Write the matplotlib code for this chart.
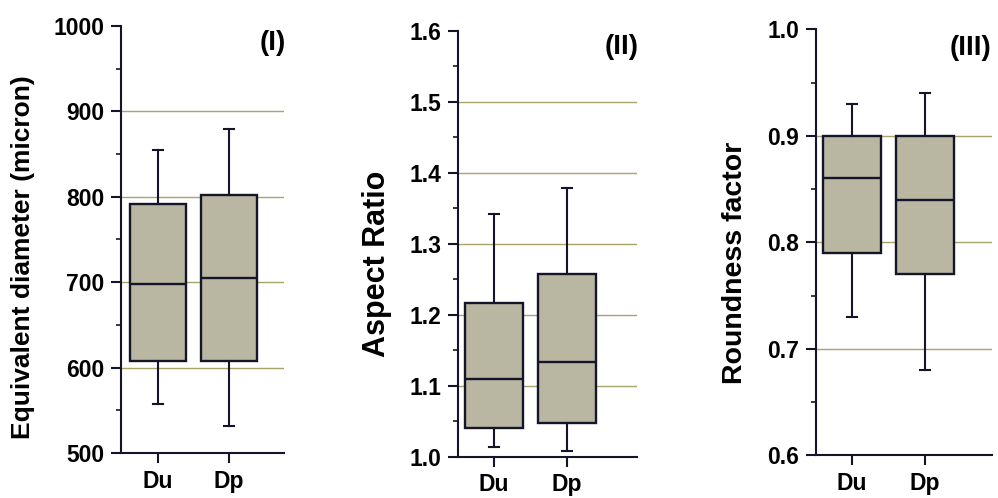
import matplotlib
matplotlib.use("Agg")
import matplotlib.pyplot as plt
from matplotlib.ticker import MultipleLocator, FormatStrFormatter

plt.rcParams.update({
    "font.family": ["Liberation Sans", "DejaVu Sans"],
    "font.weight": "bold",
    "font.size": 16.5,
})

groups = ["Du", "Dp"]

# whisker low, Q1, median, Q3, whisker high
diam_du = [557, 608, 698, 792, 855]
diam_dp = [532, 608, 705, 802, 879]
aspect_du = [1.013, 1.040, 1.109, 1.216, 1.342]
aspect_dp = [1.008, 1.047, 1.133, 1.258, 1.378]
round_du = [0.73, 0.79, 0.86, 0.90, 0.93]
round_dp = [0.68, 0.77, 0.84, 0.90, 0.94]

BOX = "#b9b6a2"
GRID = "#a9a36c"
INK = "#15152a"

panels = [
    dict(data=[diam_du, diam_dp], ylabel="Equivalent diameter (micron)", labsize=19, tag="(I)",
         ylim=(500, 1000), major=100, fmt="%d", pos=[0.1212, 0.0904, 0.1633, 0.8574],
         xlim=(0.48, 2.77), grid=[600, 700, 800, 900], tagxy=(0.93, 0.96), labxy=(-0.528, 0.459)),
    dict(data=[aspect_du, aspect_dp], ylabel="Aspect Ratio", labsize=22, tag="(II)",
         ylim=(1.0, 1.6), major=0.1, fmt="%.1f", pos=[0.4589, 0.0829, 0.1794, 0.8554],
         xlim=(0.51, 2.96), grid=[1.1, 1.2, 1.3, 1.4, 1.5], tagxy=(0.916, 0.962), labxy=(-0.369, 0.452)),
    dict(data=[round_du, round_dp], ylabel="Roundness factor", labsize=20.5, tag="(III)",
         ylim=(0.6, 1.0), major=0.1, fmt="%.1f", pos=[0.8176, 0.0857, 0.1764, 0.8555],
         xlim=(0.51, 2.92), grid=[0.7, 0.8, 0.9], tagxy=(0.88, 0.955), labxy=(-0.386, 0.451)),
]

fig = plt.figure(figsize=(9.98, 4.98), dpi=100)

for p in panels:
    ax = fig.add_axes(p["pos"])
    stats = []
    for name, (lo, q1, med, q3, hi) in zip(groups, p["data"]):
        stats.append(dict(label=name, whislo=lo, q1=q1, med=med, q3=q3, whishi=hi, fliers=[]))
    for g in p["grid"]:
        ax.axhline(g, color=GRID, lw=1.0, zorder=0)
    ax.bxp(stats, positions=[1, 2], widths=0.79, patch_artist=True, showfliers=False,
           boxprops=dict(facecolor=BOX, edgecolor=INK, linewidth=1.7),
           medianprops=dict(color=INK, linewidth=1.7),
           whiskerprops=dict(color=INK, linewidth=1.5),
           capprops=dict(color=INK, linewidth=1.5), capwidths=0.14)
    ax.set_xlim(*p["xlim"])
    ax.set_ylim(*p["ylim"])
    ax.yaxis.set_major_locator(MultipleLocator(p["major"]))
    ax.yaxis.set_minor_locator(MultipleLocator(p["major"] / 2))
    ax.yaxis.set_major_formatter(FormatStrFormatter(p["fmt"]))
    ax.set_xticks([1, 2])
    ax.set_xticklabels(groups)
    for s in ["top", "right"]:
        ax.spines[s].set_visible(False)
    for s in ["left", "bottom"]:
        ax.spines[s].set_color(INK)
        ax.spines[s].set_linewidth(1.5)
    ax.tick_params(which="major", length=7, width=1.5, color=INK, labelsize=16.5, pad=5)
    ax.tick_params(which="minor", length=3.5, width=1.2, color=INK)
    ax.tick_params(axis="x", which="minor", length=0)
    ax.set_ylabel(p["ylabel"], fontsize=p["labsize"], fontweight="bold")
    ax.yaxis.set_label_coords(*p["labxy"])
    ax.text(p["tagxy"][0], p["tagxy"][1], p["tag"], transform=ax.transAxes,
            ha="center", va="center", fontsize=20, fontweight="bold")

fig.savefig("out.png", dpi=100)
